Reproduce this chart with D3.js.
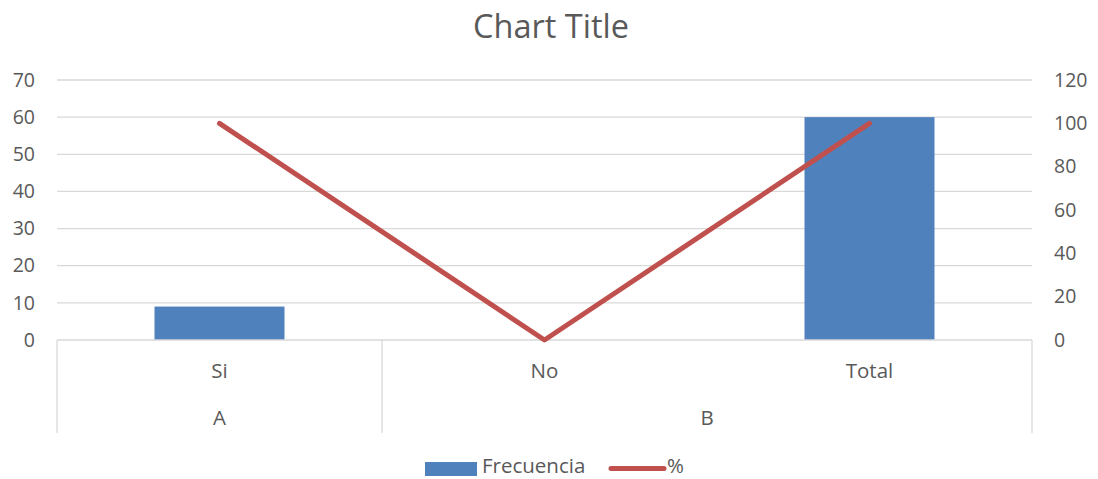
<!DOCTYPE html>
<html>
<head>
<meta charset="utf-8">
<script src="https://cdn.jsdelivr.net/npm/d3@7"></script>
<style>
  html, body { margin: 0; padding: 0; background: #fff; }
  svg { display: block; font-family: "Open Sans", sans-serif; }
</style>
</head>
<body>
<svg id="chart" width="1098" height="479"></svg>
<script>
// Categories and their outer grouping
const categories = ["Si", "No", "Total"];
const groups = [
  { label: "A", members: ["Si"] },
  { label: "B", members: ["No", "Total"] }
];
// Series values
const frecuencia = [9, 0, 60];
const porcentaje = [100, 0, 100];
// Axis ticks
const leftTicks = [0, 10, 20, 30, 40, 50, 60, 70];
const rightTicks = [0, 20, 40, 60, 80, 100, 120];

const svg = d3.select("#chart");
const margin = { left: 57, right: 1032, top: 80, bottom: 340 };
const textColor = "#595959";
const gridColor = "#d9d9d9";
const fontFamily = "'Open Sans', sans-serif";
const tickSize = 19.5;
const labelSize = 20.5;

const x = d3.scaleBand().domain(categories).range([margin.left, margin.right]).paddingInner(0).paddingOuter(0);
const yL = d3.scaleLinear().domain([0, 70]).range([margin.bottom, margin.top]);
const yR = d3.scaleLinear().domain([0, 120]).range([margin.bottom, margin.top]);

// Title
svg.append("text")
  .attr("x", 551).attr("y", 38)
  .attr("text-anchor", "middle")
  .attr("font-size", 32.5)
  .attr("fill", textColor)
  .text("Chart Title");

// Horizontal gridlines
svg.append("g").selectAll("line")
  .data(leftTicks.filter(d => d > 0))
  .join("line")
  .attr("x1", margin.left).attr("x2", margin.right)
  .attr("y1", d => yL(d)).attr("y2", d => yL(d))
  .attr("stroke", gridColor).attr("stroke-width", 1.3);

// Left axis labels
const leftAxis = d3.axisLeft(yL).tickValues(leftTicks).tickSize(0).tickPadding(22);
const gL = svg.append("g").attr("transform", `translate(${margin.left},0)`).call(leftAxis);
gL.select(".domain").remove();
gL.selectAll("text").attr("font-size", tickSize).attr("fill", textColor).attr("font-family", fontFamily);

// Right axis labels
const rightAxis = d3.axisRight(yR).tickValues(rightTicks).tickSize(0).tickPadding(22);
const gR = svg.append("g").attr("transform", `translate(${margin.right},0)`).call(rightAxis);
gR.select(".domain").remove();
gR.selectAll("text").attr("font-size", tickSize).attr("fill", textColor).attr("font-family", fontFamily);

// Bars
const barW = x.bandwidth() * 0.4;
svg.append("g").selectAll("rect")
  .data(categories.map((c, i) => ({ c, v: frecuencia[i] })))
  .join("rect")
  .attr("x", d => x(d.c) + (x.bandwidth() - barW) / 2)
  .attr("width", barW)
  .attr("y", d => yL(d.v))
  .attr("height", d => yL(0) - yL(d.v))
  .attr("fill", "#4f81bd");

// Category axis baseline
svg.append("line")
  .attr("x1", margin.left).attr("x2", margin.right)
  .attr("y1", yL(0)).attr("y2", yL(0))
  .attr("stroke", gridColor).attr("stroke-width", 1.3);

// Group separators (outer ticks spanning both label rows)
const axisBottom = 433;
const sepXs = [margin.left];
groups.forEach(g => sepXs.push(x(g.members[g.members.length - 1]) + x.bandwidth()));
svg.append("g").selectAll("line")
  .data(sepXs)
  .join("line")
  .attr("x1", d => d).attr("x2", d => d)
  .attr("y1", yL(0)).attr("y2", axisBottom)
  .attr("stroke", gridColor).attr("stroke-width", 1.3);

// Category labels
svg.append("g").selectAll("text")
  .data(categories)
  .join("text")
  .attr("x", d => x(d) + x.bandwidth() / 2)
  .attr("y", 378)
  .attr("text-anchor", "middle")
  .attr("font-size", labelSize)
  .attr("fill", textColor)
  .text(d => d);

// Group labels
svg.append("g").selectAll("text")
  .data(groups)
  .join("text")
  .attr("x", g => {
    const a = x(g.members[0]);
    const b = x(g.members[g.members.length - 1]) + x.bandwidth();
    return (a + b) / 2;
  })
  .attr("y", 425)
  .attr("text-anchor", "middle")
  .attr("font-size", labelSize)
  .attr("fill", textColor)
  .text(g => g.label);

// Percentage line
const line = d3.line()
  .x((d, i) => x(categories[i]) + x.bandwidth() / 2)
  .y(d => yR(d));
svg.append("path")
  .datum(porcentaje)
  .attr("d", line)
  .attr("fill", "none")
  .attr("stroke", "#c0504d")
  .attr("stroke-width", 5)
  .attr("stroke-linecap", "round")
  .attr("stroke-linejoin", "round");

// Legend
const lg = svg.append("g");
lg.append("rect").attr("x", 425).attr("y", 462).attr("width", 52).attr("height", 14).attr("fill", "#4f81bd");
lg.append("text").attr("x", 482).attr("y", 473).attr("font-size", labelSize).attr("fill", textColor).text("Frecuencia");
lg.append("line").attr("x1", 611).attr("x2", 664).attr("y1", 468.5).attr("y2", 468.5)
  .attr("stroke", "#c0504d").attr("stroke-width", 5).attr("stroke-linecap", "round");
lg.append("text").attr("x", 667).attr("y", 473).attr("font-size", labelSize).attr("fill", textColor).text("%");
</script>
</body>
</html>
